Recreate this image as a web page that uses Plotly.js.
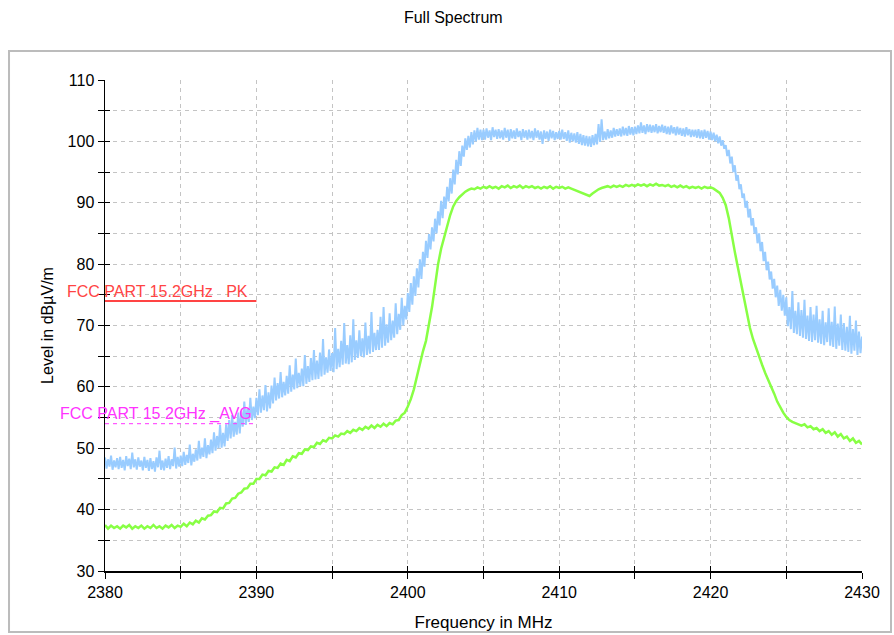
<!DOCTYPE html>
<html>
<head>
<meta charset="utf-8">
<script src="https://cdn.plot.ly/plotly-3.0.1.min.js"></script>
<style>
html,body{margin:0;padding:0;background:#fff;}
#chart{width:894px;height:635px;}
</style>
</head>
<body>
<div id="chart"></div>
<script>
// Frequency sampling (MHz)
const peakStart = 2380, peakStep = 0.1, peakCount = 501;
const avgStart = 2380, avgStep = 0.2, avgCount = 251;
const peakFreq = [], avgFreq = [];
for (let i = 0; i < peakCount; i++) peakFreq.push(+(peakStart + i * peakStep).toFixed(1));
for (let i = 0; i < avgCount; i++) avgFreq.push(+(avgStart + i * avgStep).toFixed(1));

// Peak trace (dBµV/m), 0.1 MHz steps
const peakLevel = [
48.5,46.7,48.2,47.0,48.8,46.5,48.0,46.9,48.4,46.6,
48.6,46.8,48.1,46.4,48.7,47.1,48.3,46.6,49.3,46.9,
48.2,46.5,48.5,47.0,48.0,46.4,48.6,46.8,48.1,46.3,
48.4,46.6,47.9,46.2,48.5,46.9,49.6,46.5,48.0,46.4,
48.3,46.8,48.7,46.6,48.2,47.1,50.1,46.7,48.6,47.0,
48.8,47.1,49.4,47.3,48.9,47.6,50.6,47.2,49.1,47.8,
49.8,48.0,51.2,48.3,50.1,48.6,51.6,48.4,50.5,49.0,
51.4,49.2,52.6,49.6,52.0,50.0,53.8,50.1,52.5,50.3,
53.9,51.2,54.6,51.6,55.4,51.9,54.3,52.2,55.8,52.4,
56.0,53.5,57.6,53.8,56.4,54.3,58.2,54.6,56.8,54.9,
58.2,55.4,59.6,55.8,58.6,56.2,60.3,56.0,59.1,56.5,
60.2,57.3,61.5,57.8,60.6,58.1,62.4,58.3,60.8,58.6,
61.8,58.9,63.5,59.2,62.0,59.6,64.6,59.8,62.3,60.1,
63.0,60.1,65.2,60.5,63.4,60.8,64.7,61.1,66.0,61.2,
64.3,61.3,65.6,61.7,67.8,62.0,64.8,62.3,66.1,62.6,
65.5,62.4,69.6,62.9,66.2,63.2,67.5,63.6,70.4,63.8,
66.8,63.7,68.4,64.0,71.0,64.4,67.6,64.7,69.2,65.0,
67.9,64.8,70.5,65.2,68.3,65.4,72.2,65.7,68.8,66.0,
69.3,66.0,71.4,66.4,73.0,66.7,70.2,67.2,72.0,67.6,
70.8,68.0,73.6,68.6,71.9,69.3,74.5,70.0,73.2,71.0,
75.3,72.2,76.9,73.4,78.0,74.8,79.3,76.2,80.8,77.6,
82.0,79.6,83.8,81.0,84.9,82.4,86.0,83.7,87.4,85.0,
88.6,86.3,90.3,87.5,91.0,89.0,92.6,90.2,94.0,91.5,
95.4,93.0,97.0,94.6,98.4,96.0,99.3,97.5,100.5,98.6,
100.9,99.0,101.5,99.5,101.8,100.0,102.2,100.3,101.9,100.2,
101.9,100.3,102.1,100.6,101.8,100.2,102.3,100.7,101.9,100.4,
102.0,100.5,101.8,100.3,102.2,100.6,101.9,100.1,102.0,100.5,
101.8,100.4,102.1,100.7,101.7,100.2,102.0,100.6,101.8,100.3,
101.9,100.5,101.7,100.2,102.1,100.6,101.8,100.3,101.6,99.6,
101.8,100.4,101.6,100.1,101.9,100.5,101.7,100.2,101.5,100.4,
101.7,100.3,101.9,100.4,101.5,100.1,101.8,99.8,101.4,100.0,
101.3,99.8,101.5,99.6,101.2,99.4,101.0,99.3,100.9,99.2,
100.8,99.1,101.0,99.4,101.2,99.5,102.8,99.9,103.6,100.2,
101.6,100.3,102.0,100.5,101.8,100.6,102.2,100.8,102.0,100.9,
102.1,100.8,102.4,101.0,102.2,100.9,102.5,101.1,102.3,101.0,
102.4,101.2,102.6,101.3,103.1,101.4,102.6,101.2,102.8,101.5,
102.7,101.4,102.6,101.5,102.8,101.3,102.5,101.5,102.7,101.4,
102.5,101.2,102.4,101.1,102.6,101.3,102.3,101.0,102.4,101.1,
102.2,100.9,102.1,100.8,102.3,101.0,102.0,100.7,101.9,100.8,
101.9,100.6,102.0,100.5,101.8,100.4,101.9,100.6,101.7,100.3,
101.6,100.2,101.4,100.0,101.1,99.7,100.8,99.3,100.2,98.8,
99.4,97.6,98.6,96.4,97.5,95.0,96.1,93.6,94.5,92.2,
93.0,90.8,91.5,89.2,90.3,87.6,89.0,86.3,87.5,85.0,
86.0,83.4,85.0,82.1,83.6,80.5,82.0,79.0,80.4,77.5,
78.8,76.0,77.6,74.6,76.5,73.2,75.8,72.4,75.0,71.6,
74.6,69.9,73.0,69.4,75.6,68.8,72.4,68.6,73.8,68.3,
72.5,68.0,74.2,67.8,71.6,67.5,73.0,67.3,71.8,67.6,
73.2,67.2,71.0,67.0,72.4,66.8,70.5,67.3,72.8,66.7,
70.6,66.5,73.1,66.2,70.3,66.7,71.8,66.0,70.4,65.9,
69.8,65.7,71.6,65.4,69.4,65.9,70.8,65.2,69.0,65.5,
68.2
];

// Average trace (dBµV/m), 0.2 MHz steps
const avgLevel = [
37.5,36.9,37.4,37.0,37.3, 36.9,37.4,37.1,37.5,36.9, 37.3,37.0,37.4,36.9,37.3, 37.0,37.5,37.0,37.3,36.9,
37.4,37.1,37.5,37.0,37.4, 37.2,37.7,37.3,37.9,37.6, 38.2,37.9,38.6,38.4,39.0, 39.1,39.7,39.6,40.3,40.2,
41.0,41.1,41.8,41.9,42.6, 42.8,43.4,43.5,44.2,44.2, 45.0,45.0,45.7,45.6,46.3, 46.2,46.9,46.8,47.5,47.3,
48.1,47.9,48.7,48.5,49.2, 49.1,49.8,49.7,50.3,50.2, 50.9,50.7,51.3,51.1,51.7, 51.6,52.1,51.9,52.4,52.3,
52.8,52.5,53.0,52.8,53.3, 53.0,53.5,53.2,53.7,53.3, 53.8,53.5,54.0,53.6,54.1, 53.9,54.5,54.6,55.4,55.8,
56.8,58.0,59.6,61.8,64.0, 65.8,67.5,70.0,73.0,76.5, 80.0,82.5,84.5,86.0,88.0, 89.4,90.3,90.9,91.4,91.8,
92.1,92.3,92.2,92.5,92.3, 92.6,92.4,92.7,92.4,92.6, 92.3,92.7,92.5,92.8,92.4, 92.7,92.5,92.8,92.4,92.7,
92.5,92.7,92.4,92.6,92.3, 92.6,92.4,92.7,92.3,92.6, 92.4,92.6,92.3,92.5,92.3, 92.1,91.9,91.7,91.5,91.3,
91.1,91.5,91.9,92.2,92.4, 92.5,92.7,92.5,92.8,92.6, 92.8,92.6,92.9,92.7,92.9, 92.7,93.0,92.8,93.0,92.7,
93.0,92.8,93.1,92.8,92.9, 92.7,92.9,92.6,92.8,92.5, 92.8,92.5,92.7,92.4,92.6, 92.4,92.6,92.3,92.6,92.4,
92.5,92.3,92.0,91.6,90.8, 89.6,87.5,84.5,82.0,79.5, 77.0,75.0,72.0,69.6,67.8, 66.3,64.9,63.6,62.3,61.2,
60.0,58.9,57.6,56.6,55.8, 55.1,54.6,54.3,54.1,53.9, 53.7,53.9,53.4,53.6,53.1, 53.3,52.8,53.1,52.5,52.8,
52.2,52.6,51.9,52.3,51.6, 51.9,51.2,51.6,50.9,51.2, 50.6
];

// Limit lines
const limitFreq = [2380, 2390];
const pkLimit = [74, 74];
const avgLimit = [54, 54];
const pkLabel = "FCC PART 15.2GHz   PK";
const avgLabel = "FCC PART 15 2GHz _AVG";

const xTicks = [2380, 2390, 2400, 2410, 2420, 2430];
const yTicks = [30, 40, 50, 60, 70, 80, 90, 100, 110];
const xMinorTicks = [2380,2385,2390,2395,2400,2405,2410,2415,2420,2425,2430];
const yMinorTicks = [30,35,40,45,50,55,60,65,70,75,80,85,90,95,100,105,110];

const FONT = "Liberation Sans, Arial, sans-serif";
const GRID = '#c4c4c4';
const DASH = '4px,4px';

const traces = [
  {x: peakFreq, y: peakLevel, type: 'scatter', mode: 'lines',
   line: {color: '#99ccff', width: 2}, hoverinfo: 'skip', showlegend: false},
  {x: avgFreq, y: avgLevel, type: 'scatter', mode: 'lines',
   line: {color: '#88ff44', width: 2.5}, hoverinfo: 'skip', showlegend: false},
  {x: limitFreq, y: pkLimit, type: 'scatter', mode: 'lines',
   line: {color: '#ff4444', width: 2}, hoverinfo: 'skip', showlegend: false},
  {x: limitFreq, y: avgLimit, type: 'scatter', mode: 'lines',
   line: {color: '#ff33ff', width: 1, dash: DASH}, hoverinfo: 'skip', showlegend: false},
  {x: [2380], y: [30], xaxis: 'x2', yaxis: 'y2', mode: 'markers', marker: {opacity: 0}, hoverinfo: 'skip', showlegend: false}
];

const layout = {
  width: 894, height: 635,
  margin: {l: 105, r: 32, t: 80, b: 64},
  paper_bgcolor: '#ffffff', plot_bgcolor: '#ffffff',
  font: {family: FONT, size: 16, color: '#000'},
  title: {text: 'Full Spectrum', font: {family: FONT, size: 16, color: '#000'},
          x: 0.507, xanchor: 'center', y: 1 - 17/635, yanchor: 'middle', yref: 'container'},
  xaxis: {
    range: [2380, 2430], tickvals: xTicks, ticktext: xTicks.map(String),
    ticks: 'outside', ticklen: 6, tickcolor: '#000', tickwidth: 1,
    showline: true, linecolor: '#000', linewidth: 1.5, zeroline: false,
    showgrid: true, gridcolor: GRID, griddash: DASH, gridwidth: 1,
    minor: {tickvals: xMinorTicks, ticks: 'outside', ticklen: 6, tickcolor: '#000', showgrid: true, gridcolor: GRID, griddash: DASH},
    tickfont: {family: FONT, size: 16, color: '#000'},
    title: {text: 'Frequency in MHz', font: {family: FONT, size: 17, color: '#000'}, standoff: 16}
  },
  yaxis: {
    range: [30, 110], tickvals: yTicks, ticktext: yTicks.map(String),
    ticks: 'outside', ticklen: 6, tickcolor: '#000', tickwidth: 1,
    showline: true, linecolor: '#000', linewidth: 1.5, zeroline: false,
    showgrid: true, gridcolor: GRID, griddash: DASH, gridwidth: 1,
    minor: {tickvals: yMinorTicks, ticks: 'outside', ticklen: 6, tickcolor: '#000', showgrid: true, gridcolor: GRID, griddash: DASH},
    tickfont: {family: FONT, size: 16, color: '#000'},
    title: {text: 'Level in dBµV/m', font: {family: FONT, size: 16, color: '#000'}, standoff: 10}
  },
  xaxis2: {overlaying: 'x', range: [2380, 2430], showgrid: false, zeroline: false, showticklabels: false,
           tickvals: xMinorTicks, ticks: 'inside', ticklen: 5, tickcolor: '#000', side: 'bottom', anchor: 'y2'},
  yaxis2: {overlaying: 'y', range: [30, 110], showgrid: false, zeroline: false, showticklabels: false,
           tickvals: yMinorTicks, ticks: 'inside', ticklen: 5, tickcolor: '#000', side: 'left', anchor: 'x2'},
  annotations: [
    {x: 2389.6, y: 75.6, xref: 'x', yref: 'y', text: pkLabel, showarrow: false,
     xanchor: 'right', yanchor: 'middle', font: {family: FONT, size: 16, color: '#ff4444'}},
    {x: 2389.85, y: 55.6, xref: 'x', yref: 'y', text: avgLabel, showarrow: false,
     xanchor: 'right', yanchor: 'middle', font: {family: FONT, size: 16, color: '#ff33ff'}}
  ],
  shapes: [
    {type: 'rect', xref: 'paper', yref: 'paper', x0: -0.1268, x1: 1.0383, y0: -0.1242, y1: 1.059,
     line: {color: '#bcbcbc', width: 2}, fillcolor: 'rgba(0,0,0,0)', layer: 'below'}
  ]
};

Plotly.newPlot('chart', traces, layout, {staticPlot: true, displayModeBar: false});
</script>
</body>
</html>
